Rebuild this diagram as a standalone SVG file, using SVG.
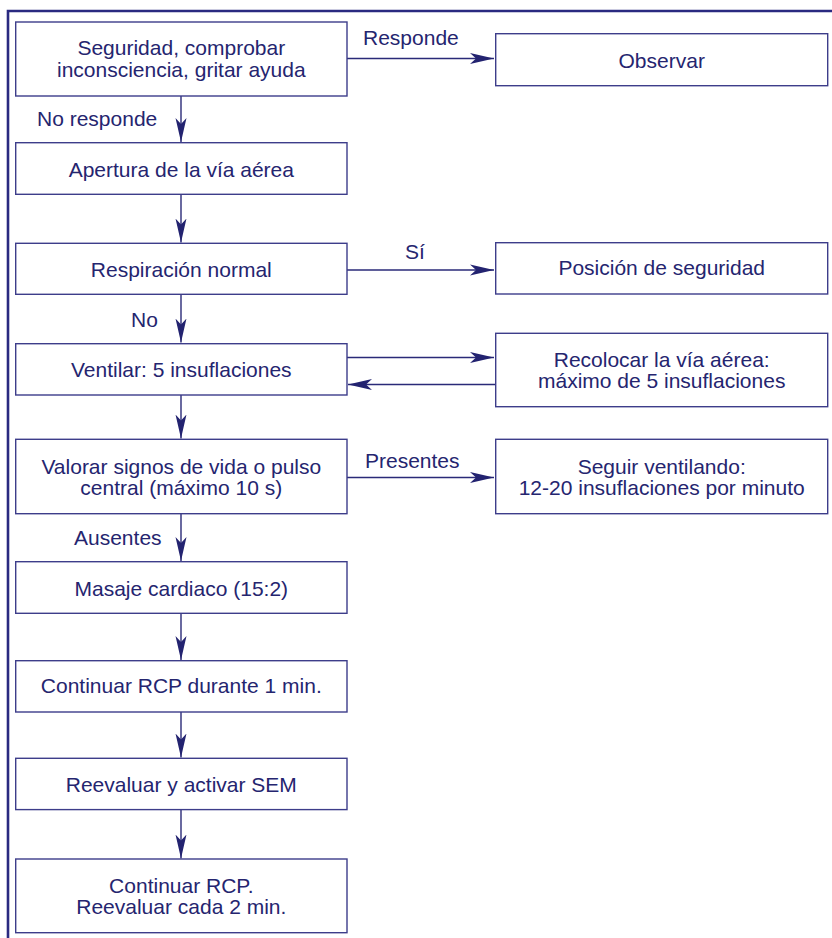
<svg xmlns="http://www.w3.org/2000/svg" width="832" height="938" viewBox="0 0 832 938">
<style>
.box{fill:#fff;stroke:#3d3d8a;stroke-width:1.4}
.t{font-family:"Liberation Sans",Arial,sans-serif;font-size:21px;fill:#25256f}
.c{text-anchor:middle}
.ln{stroke:#2a2a78;stroke-width:1.4;fill:none}
.frame{stroke:#2a2a80;stroke-width:2.6;fill:none}
</style>
<defs>
<marker id="ah" markerUnits="userSpaceOnUse" viewBox="-24 -6 25 12" markerWidth="25" markerHeight="12" refX="0" refY="0" orient="auto">
<path d="M0,0 L-24,-5.5 L-18,0 L-24,5.5 Z" fill="#232370"/>
</marker>
</defs>
<rect width="832" height="938" fill="#fff"/>
<path class="frame" d="M8,940 V11 H834"/>
<g id="connectors">
<line class="ln" x1="347" y1="58.5" x2="494" y2="58.5" marker-end="url(#ah)"/>
<line class="ln" x1="181" y1="96" x2="181" y2="142" marker-end="url(#ah)"/>
<line class="ln" x1="181" y1="194.5" x2="181" y2="242.5" marker-end="url(#ah)"/>
<line class="ln" x1="347" y1="270" x2="494" y2="270" marker-end="url(#ah)"/>
<line class="ln" x1="181" y1="294.5" x2="181" y2="342.5" marker-end="url(#ah)"/>
<line class="ln" x1="347" y1="357.5" x2="494" y2="357.5" marker-end="url(#ah)"/>
<line class="ln" x1="495.5" y1="384.5" x2="348" y2="384.5" marker-end="url(#ah)"/>
<line class="ln" x1="181" y1="395" x2="181" y2="438.5" marker-end="url(#ah)"/>
<line class="ln" x1="347" y1="477.5" x2="494" y2="477.5" marker-end="url(#ah)"/>
<line class="ln" x1="181" y1="514" x2="181" y2="561" marker-end="url(#ah)"/>
<line class="ln" x1="181" y1="613.5" x2="181" y2="660" marker-end="url(#ah)"/>
<line class="ln" x1="181" y1="712" x2="181" y2="757.5" marker-end="url(#ah)"/>
<line class="ln" x1="181" y1="810" x2="181" y2="858.5" marker-end="url(#ah)"/>
<text class="t" x="363" y="45">Responde</text>
<text class="t" x="37" y="126">No responde</text>
<text class="t" x="405" y="259">Sí</text>
<text class="t" x="131" y="327">No</text>
<text class="t" x="365" y="468">Presentes</text>
<text class="t" x="74" y="545">Ausentes</text>
</g>
<g id="n1"><rect class="box" x="15.7" y="22" width="331.3" height="74"/><text class="t c" x="181.3" y="55">Seguridad, comprobar</text><text class="t c" x="181.3" y="77">inconsciencia, gritar ayuda</text></g>
<g id="n2"><rect class="box" x="495.7" y="33.7" width="332" height="52"/><text class="t c" x="661.7" y="68">Observar</text></g>
<g id="n3"><rect class="box" x="15.7" y="142.7" width="331.3" height="51.6"/><text class="t c" x="181.3" y="176.5">Apertura de la vía aérea</text></g>
<g id="n4"><rect class="box" x="15.7" y="243.3" width="331.3" height="51"/><text class="t c" x="181.3" y="276.5">Respiración normal</text></g>
<g id="n5"><rect class="box" x="495.7" y="242.7" width="332" height="51.3"/><text class="t c" x="661.7" y="275">Posición de seguridad</text></g>
<g id="n6"><rect class="box" x="15.7" y="343.7" width="331.3" height="51.3"/><text class="t c" x="181.3" y="376.5">Ventilar: 5 insuflaciones</text></g>
<g id="n7"><rect class="box" x="495.7" y="333.3" width="332" height="73.4"/><text class="t c" x="661.7" y="366.5">Recolocar la vía aérea:</text><text class="t c" x="661.7" y="388.3">máximo de 5 insuflaciones</text></g>
<g id="n8"><rect class="box" x="15.7" y="439.3" width="331.3" height="74.4"/><text class="t c" x="181.3" y="474">Valorar signos de vida o pulso</text><text class="t c" x="181.3" y="495.3">central (máximo 10 s)</text></g>
<g id="n9"><rect class="box" x="495.7" y="439.3" width="332" height="74.4"/><text class="t c" x="661.7" y="474">Seguir ventilando:</text><text class="t c" x="661.7" y="495">12-20 insuflaciones por minuto</text></g>
<g id="n10"><rect class="box" x="15.7" y="561.7" width="331.3" height="51.6"/><text class="t c" x="181.3" y="595.5">Masaje cardiaco (15:2)</text></g>
<g id="n11"><rect class="box" x="15.7" y="660.7" width="331.3" height="51.3"/><text class="t c" x="181.3" y="693.3">Continuar RCP durante 1 min.</text></g>
<g id="n12"><rect class="box" x="15.7" y="758.3" width="331.3" height="51.3"/><text class="t c" x="181.3" y="791.5">Reevaluar y activar SEM</text></g>
<g id="n13"><rect class="box" x="15.7" y="859" width="331.3" height="73.7"/><text class="t c" x="181.3" y="892.7">Continuar RCP.</text><text class="t c" x="181.3" y="914">Reevaluar cada 2 min.</text></g>
</svg>
